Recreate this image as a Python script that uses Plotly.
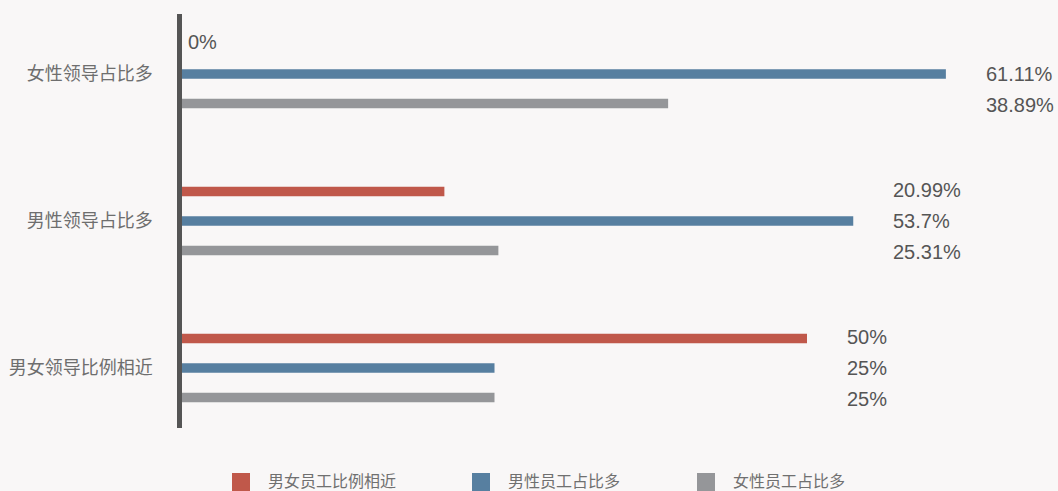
import plotly.graph_objects as go

categories = ["女性领导占比多", "男性领导占比多", "男女领导比例相近"]
series_names = ["男女员工比例相近", "男性员工占比多", "女性员工占比多"]
equal_vals = [0, 20.99, 50]
male_vals = [61.11, 53.7, 25]
female_vals = [38.89, 25.31, 25]
label_texts = [
    ["0%", "20.99%", "50%"],
    ["61.11%", "53.7%", "25%"],
    ["38.89%", "25.31%", "25%"],
]

colors = ["#c0584a", "#577fa0", "#959699"]
series_vals = [equal_vals, male_vals, female_vals]

W, H = 1058, 491
ML, MR, MT, MB = 182, 1, 14, 63
BG = "#f9f7f7"
VAL_FONT = "Liberation Sans, Arial, sans-serif"

fig = go.Figure()
for name, vals, col in zip(series_names, series_vals, colors):
    fig.add_trace(go.Bar(
        y=categories, x=vals, name=name, orientation="h",
        marker=dict(color=col, line=dict(width=0)),
        showlegend=False, hoverinfo="x+y",
    ))

# value labels
shifts = [31, 0, -31]
for si, vals in enumerate(series_vals):
    for ci, cat in enumerate(categories):
        gmax = max(s[ci] for s in series_vals)
        if vals[ci] == 0:
            x, xs = 0, 4
            ys = shifts[si] + 1
        else:
            x, xs = gmax, 38
            ys = shifts[si]
        fig.add_annotation(
            x=x, y=cat, xref="x", yref="y", text=label_texts[si][ci],
            showarrow=False, xanchor="left", yanchor="middle",
            xshift=xs, yshift=ys,
            font=dict(size=20, color="#555555", family=VAL_FONT),
        )

# manual legend
leg_x = [232, 472, 697]
PW = W - ML - MR
PH = H - MT - MB
for name, col, lx in zip(series_names, colors, leg_x):
    fig.add_shape(
        type="rect", xref="paper", yref="paper",
        x0=(lx - ML) / PW, x1=(lx + 18 - ML) / PW,
        y0=(H - MB - 491) / PH, y1=(H - MB - 473) / PH,
        fillcolor=col, line=dict(width=0),
    )
    fig.add_annotation(
        xref="paper", yref="paper",
        x=(lx + 35 - ML) / PW, y=(H - MB - 480.5) / PH,
        text=name, showarrow=False, xanchor="left", yanchor="middle",
        borderpad=0,
        font=dict(size=16, color="#707070", family="Noto Sans CJK SC, sans-serif"),
    )

fig.update_layout(
    width=W, height=H,
    margin=dict(l=ML, r=MR, t=MT, b=MB, pad=0),
    paper_bgcolor=BG, plot_bgcolor=BG,
    barmode="group", bargap=0.398, bargroupgap=0.68,
    showlegend=False,
    font=dict(family="Noto Sans CJK SC, sans-serif"),
)
fig.update_xaxes(range=[0, 70], visible=False, showgrid=False, zeroline=False, fixedrange=True)
fig.update_yaxes(
    type="category", categoryorder="array", categoryarray=categories,
    range=[2.408, -0.408], showgrid=False, zeroline=False,
    showline=True, linewidth=4.5, linecolor="#555555",
    ticks="outside", ticklen=21, tickcolor="rgba(0,0,0,0)",
    tickfont=dict(size=18, color="#6e6e6e", family="Noto Sans CJK SC, sans-serif"),
)

fig.write_html("out.html")
